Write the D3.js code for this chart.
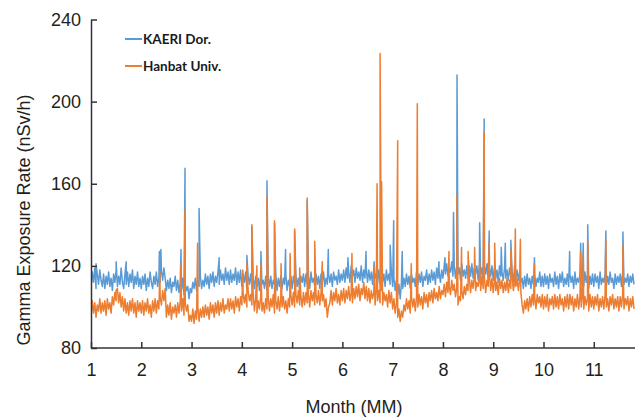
<!DOCTYPE html>
<html><head><meta charset="utf-8">
<script src="https://cdn.jsdelivr.net/npm/d3@7"></script>
<style>body{margin:0;background:#fff}svg{display:block}</style>
</head><body>
<svg id="chart" width="635" height="418"></svg>
<script>
// ---- data ----
const seriesNames = ["KAERI Dor.", "Hanbat Univ."];
const startMonth = 1, monthStep = 0.025;   // sampling grid of the base readings
const kaeriBase = [
 110,117,112,119,109,116,111,118,113,110, 116,109,115,111,117,110,114,108,116,112,
 118,110,115,111,119,112,109,116,111,117, 110,116,112,118,109,115,111,117,110,114,
 109,115,111,116,108,114,110,117,112,109, 115,111,117,110,114,112,118,113,119,114,
 108,113,109,114,107,112,110,115,108,113, 107,112,108,114,106,111,108,110,104,109,
 107,112,109,114,108,113,110,115,109,113, 110,116,111,115,109,116,112,117,110,115,
 112,117,111,118,113,116,111,119,113,117, 111,118,112,116,113,119,111,117,112,118,
 110,116,112,117,109,115,111,116,110,114, 109,115,110,114,108,116,111,113,109,115,
 108,114,110,115,109,113,111,116,108,114, 110,115,109,114,111,116,108,113,110,115,
 109,115,111,116,110,114,108,115,112,116, 110,116,111,115,109,117,112,114,110,116,
 111,115,109,116,112,117,110,114,111,116, 112,116,110,117,113,115,111,118,112,116,
 113,118,112,119,114,117,112,120,115,118, 112,119,114,117,113,120,112,118,114,119,
 112,118,113,117,111,119,114,116,112,118, 111,117,112,116,110,118,113,116,111,117,
 110,114,108,113,106,111,104,112,109,114, 110,116,111,115,109,116,112,114,110,117,
 111,116,112,117,110,115,113,118,111,116, 112,118,113,117,111,119,114,117,112,118,
 114,120,116,121,115,119,117,122,115,120, 114,120,116,119,113,121,115,118,114,120,
 114,120,115,121,114,119,116,120,113,121, 115,119,114,120,116,121,113,119,115,120,
 113,119,114,118,112,120,115,117,113,119, 114,118,113,119,115,117,112,120,114,118,
 113,117,112,114,109,115,110,116,111,114, 109,115,111,116,110,114,112,117,110,115,
 110,116,111,115,109,116,112,114,110,117, 111,115,109,116,112,117,110,114,111,116,
 110,116,112,115,109,117,111,114,112,116, 111,115,110,117,112,116,109,115,111,116,
 110,116,112,115,109,117,111,114,112,116, 110,115,111,117,112,114,109,116,111,115,
 112,116,110,117,111,114,112,116,110,115, 112,116,111
];
const hanbatBase = [
 96,103,97,102,95,101,98,104,97,102, 98,103,96,104,99,102,97,105,101,107,
 103,109,102,107,100,105,98,104,97,102, 96,103,98,104,97,102,95,103,98,102,
 97,103,96,102,98,104,97,101,95,103, 98,104,97,103,99,105,101,108,103,109,
 95,101,96,102,94,100,97,101,95,102, 97,103,98,104,96,102,98,101,93,96,
 93,99,92,98,94,100,93,99,95,100, 95,101,96,100,94,102,97,101,95,102,
 97,103,96,102,98,104,97,101,99,104, 98,104,99,103,97,105,100,104,98,105,
 101,107,102,106,100,108,103,106,101,107, 98,104,97,103,99,105,98,102,97,104,
 99,105,98,104,100,106,97,103,99,105, 98,104,100,105,99,103,97,104,100,106,
 101,107,100,106,102,108,101,105,100,107, 101,107,102,106,100,108,103,107,101,106,
 102,108,101,107,103,106,100,104,95,100, 102,108,101,107,103,109,102,106,101,108,
 103,109,102,108,104,110,103,107,102,109, 104,110,105,111,103,109,106,112,104,110,
 103,109,102,108,104,107,101,109,103,108, 102,108,101,107,103,106,100,108,102,107,
 99,104,97,102,95,99,93,98,95,101, 98,104,99,103,97,105,100,104,98,105,
 100,106,101,105,99,107,102,106,100,107, 103,108,102,109,104,107,103,110,104,108,
 106,111,105,112,107,110,106,113,108,111, 105,109,101,105,103,108,104,110,106,111,
 108,114,107,113,109,115,108,112,110,114, 108,115,109,114,107,113,110,116,108,114,
 107,113,108,112,106,114,109,113,107,112, 108,114,107,113,109,115,108,112,110,114,
 108,113,107,101,97,103,99,104,98,105, 100,106,101,105,99,106,102,105,100,106,
 99,105,100,106,98,104,101,105,99,106, 100,105,99,106,101,104,98,105,100,106,
 99,106,101,105,98,104,100,106,99,105, 100,106,99,105,101,104,98,106,100,105,
 99,105,101,106,98,104,100,105,99,106, 100,104,98,105,101,106,99,104,100,105,
 98,105,100,106,99,104,101,105,98,104, 100,105,99
];
const kaeriSpikeMonths = [1.1,1.5,1.7,2.36,2.39,2.79,2.87,3.15,3.55,4.1,4.2,4.38,4.5,4.65,4.87,5.05,5.3,5.72,6.11,6.47,6.63,6.95,7.02,7.19,7.92,8.04,8.21,8.28,8.73,8.82,8.92,9.16,9.24,9.35,9.82,10.52,10.74,10.79,10.88,11.24,11.58];
const kaeriSpikeValues = [121,122,122,127,128,128,167.5,148,124,125,139,127,161.5,141,128,137,152,128,124,127,122,130,142,127,122,124,146,213,141,191.5,137,129,131,132.5,124,127,131,131,140,137,136.5];
const hanbatSpikeMonths = [1.5,2.37,2.79,2.87,3.12,4.02,4.1,4.2,4.3,4.38,4.5,4.65,4.78,4.96,5.05,5.15,5.3,5.45,5.6,6.19,6.63,6.69,6.75,6.78,7.1,7.37,7.49,8.12,8.28,8.37,8.5,8.63,8.73,8.82,8.92,9.03,9.35,9.44,9.54,9.82,10.74,10.79,10.88,11.24,11.58];
const hanbatSpikeValues = [108,117,121,147,131,118,121,140,120,121,154,142,121,126,138,119,153,132,122,126,120,160,223.5,161,181,121,199,127,154.5,129,127,129,122,185,131.5,131,127.5,138,133,121,126.5,125.5,132.5,133,130];
const xTickValues = [1,2,3,4,5,6,7,8,9,10,11];
const yTickValues = [80,120,160,200,240];

// ---- build series ----
function build(base, sm, sv){
  const pts = base.map((v,i)=>({m:startMonth+i*monthStep, v}));
  sm.forEach((m,i)=>pts.push({m, v:sv[i]}));
  pts.sort((a,b)=>a.m-b.m);
  return pts;
}
const series = [
  {name:seriesNames[0], color:"#5b9bd5", data:build(kaeriBase,kaeriSpikeMonths,kaeriSpikeValues)},
  {name:seriesNames[1], color:"#ed7d31", data:build(hanbatBase,hanbatSpikeMonths,hanbatSpikeValues)}
];

const svg = d3.select("#chart");
const x = d3.scaleLinear().domain([1,11.8]).range([91,634]);
const y = d3.scaleLinear().domain([80,240]).range([348,19.5]);
const axisColor = "#333";

svg.append("defs").append("clipPath").attr("id","clip")
  .append("rect").attr("x",91).attr("y",0).attr("width",544).attr("height",348);

const line = d3.line().x(d=>x(d.m)).y(d=>y(d.v));
const g = svg.append("g").attr("clip-path","url(#clip)");
series.forEach(s=>{
  g.append("path").datum(s.data).attr("d",line)
   .attr("fill","none").attr("stroke",s.color).attr("stroke-width",1.5)
   .attr("stroke-linejoin","round");
});

// axes
const xAxis = svg.append("g").attr("transform","translate(0,348)")
  .call(d3.axisBottom(x).tickValues(xTickValues).tickSizeInner(-6).tickSizeOuter(0).tickPadding(15).tickFormat(d3.format("d")));
const yAxis = svg.append("g").attr("transform","translate(91,0)")
  .call(d3.axisLeft(y).tickValues(yTickValues).tickSizeInner(-6).tickSizeOuter(0).tickPadding(10));
[xAxis,yAxis].forEach(a=>{
  a.select(".domain").attr("stroke",axisColor).attr("stroke-width",1.5);
  a.selectAll(".tick line").attr("stroke",axisColor).attr("stroke-width",1.5);
  a.selectAll(".tick text").attr("fill","#231f20").style("font-family","'Liberation Sans', Arial, sans-serif").style("font-size","18px");
});
xAxis.select(".domain").attr("d","M91,0H635");

svg.append("text").attr("x",354).attr("y",413).attr("text-anchor","middle")
  .attr("fill","#231f20").style("font-family","'Liberation Sans', Arial, sans-serif").style("font-size","18px")
  .text("Month (MM)");
svg.append("text").attr("transform","translate(30,220) rotate(-90)").attr("text-anchor","middle")
  .attr("fill","#231f20").style("font-family","'Liberation Sans', Arial, sans-serif").style("font-size","18px")
  .text("Gamma Exposure Rate (nSv/h)");

// legend
const leg = svg.append("g");
series.forEach((s,i)=>{
  const ly = 39 + i*27;
  leg.append("line").attr("x1",125).attr("x2",142).attr("y1",ly).attr("y2",ly)
    .attr("stroke",s.color).attr("stroke-width",2);
  leg.append("text").attr("x",143).attr("y",ly+5).attr("fill","#1a1a1a")
    .style("font-family","Lato, 'Open Sans', sans-serif").style("font-weight","bold").style("font-size","13.5px")
    .text(s.name);
});
</script>
</body></html>
